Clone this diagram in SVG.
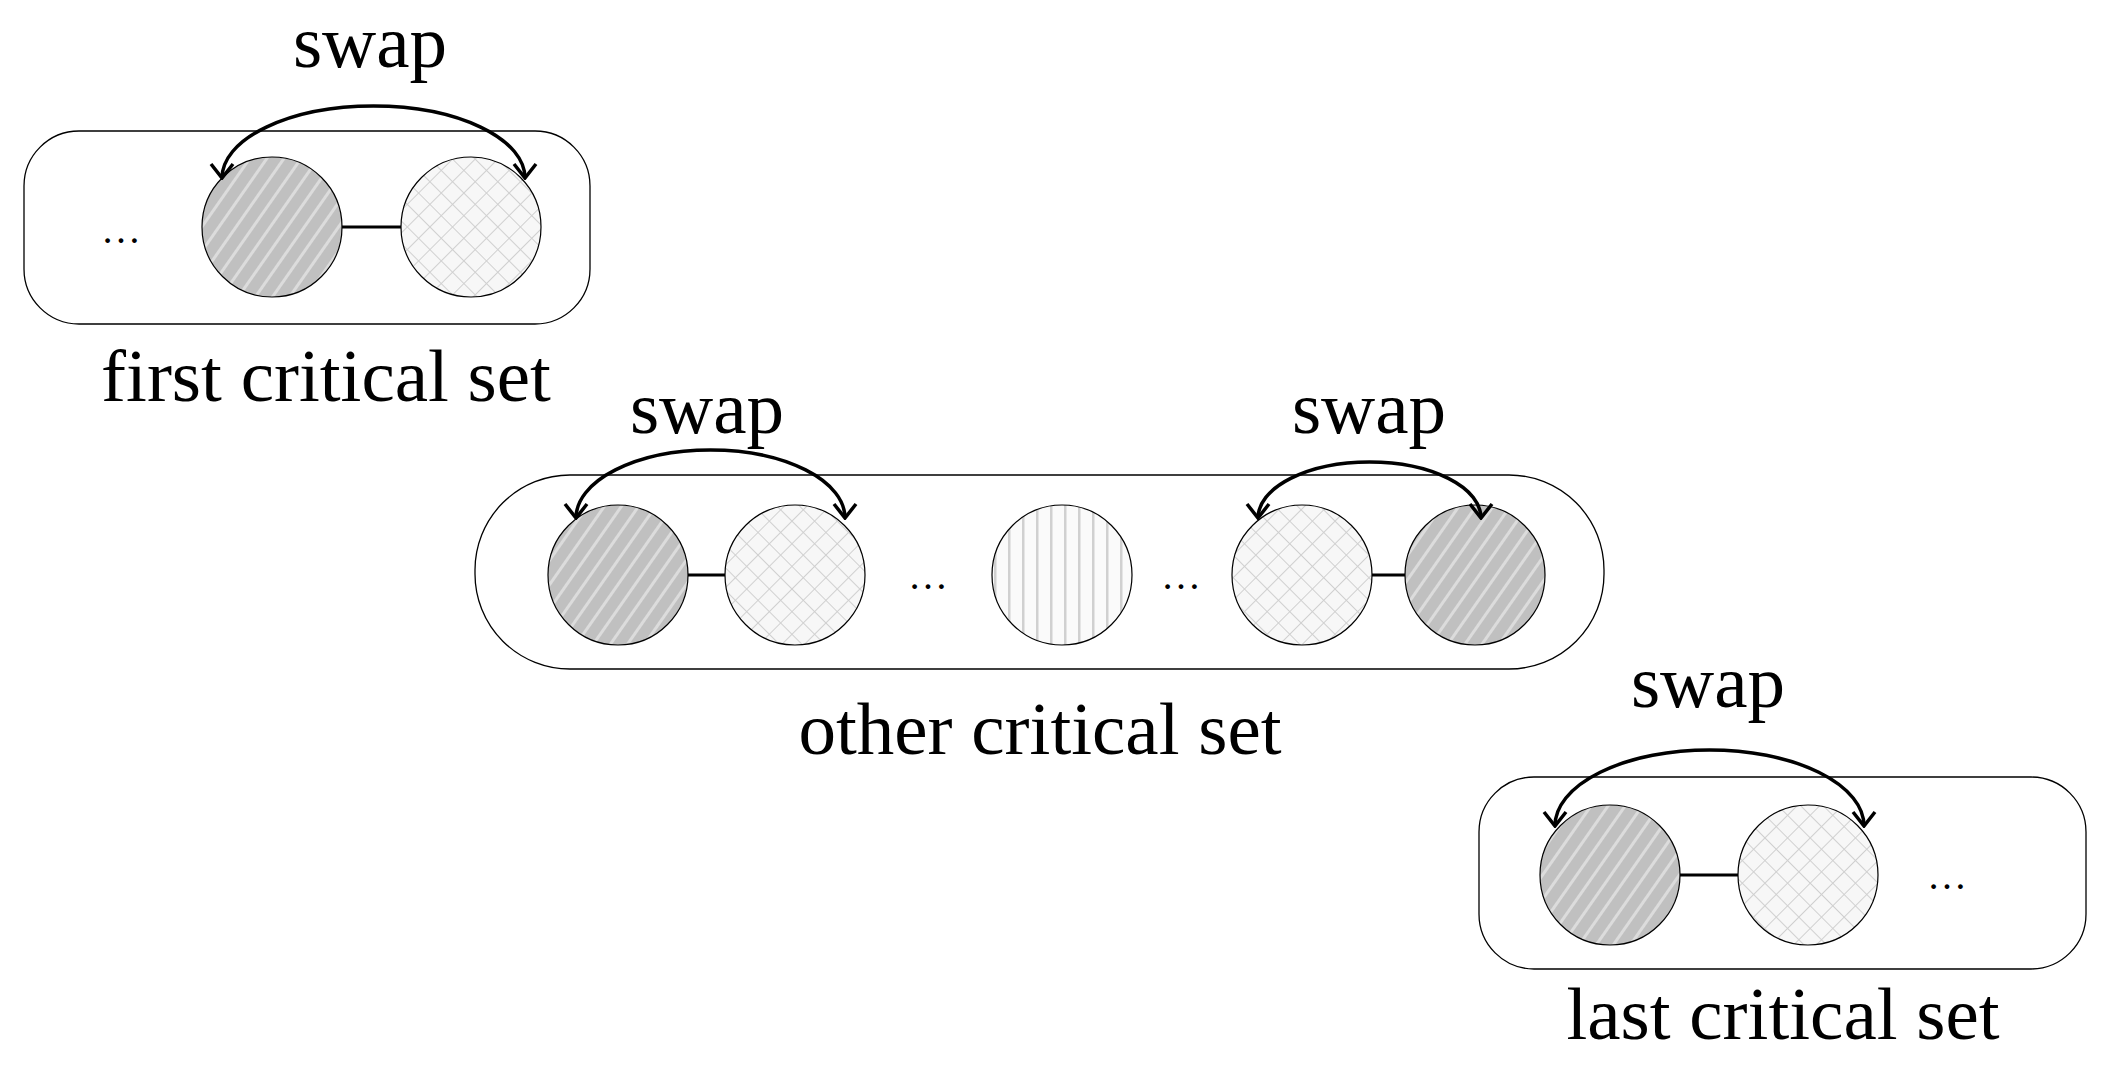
<svg xmlns="http://www.w3.org/2000/svg" width="2111" height="1072" viewBox="0 0 2111 1072">
<style>
text{font-family:"Liberation Serif","Times New Roman",serif;font-size:75px;fill:#000;text-anchor:middle}
.box{fill:#fff;stroke:#000;stroke-width:1.3}
.c{stroke:#000;stroke-width:1.2}
.dark{fill:url(#diag)}.light{fill:url(#cross)}.vert{fill:url(#vl)}
.ln{stroke:#000;stroke-width:3}
.arc{fill:none;stroke:#000;stroke-width:3.5;marker-start:url(#ah);marker-end:url(#ah)}
.dots{font-size:40px;letter-spacing:6px}
</style>
<defs>
<pattern id="diag" width="14" height="14" patternUnits="userSpaceOnUse" patternTransform="rotate(35)">
<rect width="14" height="14" fill="#c0c0c0"/><rect width="3" height="14" fill="#dcdcdc"/></pattern>
<pattern id="cross" width="16" height="16" patternUnits="userSpaceOnUse" patternTransform="rotate(45)">
<rect width="16" height="16" fill="#f7f7f7"/><path d="M0 0H16M0 0V16" stroke="#d0d0d0" stroke-width="2"/></pattern>
<pattern id="vl" width="14" height="14" patternUnits="userSpaceOnUse">
<rect width="14" height="14" fill="#fafafa"/><rect width="2.5" height="14" fill="#d0d0d0"/></pattern>
<marker id="ah" viewBox="0 0 28 28" refX="26" refY="14" markerWidth="28" markerHeight="28" markerUnits="userSpaceOnUse" orient="auto-start-reverse">
<path d="M12 3 L26 14 L12 25" fill="none" stroke="#000" stroke-width="3.5"/></marker>
</defs>
<g id="set1">
<rect class="box" x="24" y="131" width="566" height="193" rx="55"/>
<text class="dots" x="124" y="243">…</text>
<circle class="c dark" cx="272" cy="227" r="70"/>
<circle class="c light" cx="471" cy="227" r="70"/>
<text x="326" y="401">first critical set</text>
<text x="370" y="67">swap</text>
</g>
<g id="set2">
<rect class="box" x="475" y="475" width="1129" height="194" rx="95"/>
<circle class="c dark" cx="618" cy="575" r="70"/>
<circle class="c light" cx="795" cy="575" r="70"/>
<text class="dots" x="931" y="589">…</text>
<circle class="c vert" cx="1062" cy="575" r="70"/>
<text class="dots" x="1184" y="589">…</text>
<circle class="c light" cx="1302" cy="575" r="70"/>
<circle class="c dark" cx="1475" cy="575" r="70"/>
<text x="1040" y="754">other critical set</text>
<text x="707" y="433">swap</text>
<text x="1369" y="433">swap</text>
</g>
<g id="set3">
<rect class="box" x="1479" y="777" width="607" height="192" rx="55"/>
<circle class="c dark" cx="1610" cy="875" r="70"/>
<circle class="c light" cx="1808" cy="875" r="70"/>
<text class="dots" x="1950" y="889">…</text>
<text x="1783" y="1039">last critical set</text>
<text x="1708" y="707">swap</text>
</g>
<g id="connectors">
<line class="ln" x1="342" y1="227" x2="401" y2="227"/>
<line class="ln" x1="688" y1="575" x2="725" y2="575"/>
<line class="ln" x1="1372" y1="575" x2="1405" y2="575"/>
<line class="ln" x1="1680" y1="875" x2="1738" y2="875"/>
<path class="arc" d="M222 178 A151.5 72 0 0 1 525 178"/>
<path class="arc" d="M576 518 A134.5 68 0 0 1 845 518"/>
<path class="arc" d="M1258 518 A111.5 56 0 0 1 1481 518"/>
<path class="arc" d="M1555 826 A154.5 76 0 0 1 1864 826"/>
</g>
</svg>
